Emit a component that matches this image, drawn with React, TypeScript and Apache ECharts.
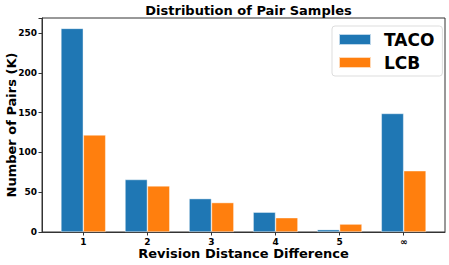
import React, { useEffect, useRef } from "react";
import * as echarts from "echarts";

const categories = ["1", "2", "3", "4", "5", "∞"];
const tacoValues = [256, 66, 42, 25, 3, 149];
const lcbValues = [122, 58, 37, 18, 10, 77];
const yTicks = [0, 50, 100, 150, 200, 250];

const FONT = "DejaVu Sans";

export default function App() {
  const ref = useRef<HTMLDivElement>(null);
  useEffect(() => {
    if (!ref.current) return;
    const chart = echarts.init(ref.current, undefined, { renderer: "svg" });
    const idx = categories.map((_, i) => i);
    chart.setOption({
      animation: false,
      title: {
        text: "Distribution of Pair Samples",
        left: 243.5,
        textAlign: "center",
        top: -1,
        textStyle: { fontFamily: FONT, fontSize: 13, fontWeight: "bold", color: "#000" },
      },
      legend: {
        orient: "vertical",
        left: 332,
        top: 26,
        itemWidth: 32,
        itemHeight: 11,
        itemGap: 6,
        padding: [5, 8, 5, 6],
        borderColor: "#ddd",
        borderWidth: 1,
        borderRadius: 3,
        icon: "rect",
        textStyle: {
          fontFamily: FONT,
          fontSize: 17,
          fontWeight: "bold",
          color: "#000",
          lineHeight: 17,
          padding: [0, 0, 0, 8],
        },
        data: ["TACO", "LCB"],
      },
      grid: {
        left: 42,
        right: 4,
        top: 18,
        bottom: 33,
        containLabel: false,
        outerBoundsMode: "none",
        show: true,
        borderColor: "#333",
        borderWidth: 1,
        backgroundColor: "transparent",
      },
      xAxis: {
        type: "value",
        min: -0.645,
        max: 5.645,
        name: "Revision Distance Difference",
        nameLocation: "middle",
        nameGap: 15,
        nameMoveOverlap: false,
        nameTextStyle: { fontFamily: FONT, fontSize: 13, fontWeight: "bold", color: "#000" },
        axisLine: { show: true, onZero: false, lineStyle: { color: "#333" } },
        axisTick: { show: true, customValues: idx, length: 3.5, lineStyle: { color: "#333" } },
        axisLabel: {
          customValues: idx,
          formatter: (v: number) => categories[Math.round(v)],
          fontFamily: FONT,
          fontSize: 9,
          fontWeight: "bold",
          color: "#000",
          margin: 5,
        },
        splitLine: { show: false },
      },
      yAxis: {
        type: "value",
        min: 0,
        max: 269,
        interval: 50,
        name: "Number of Pairs (K)",
        nameLocation: "middle",
        nameGap: 24,
        nameMoveOverlap: false,
        nameTextStyle: { fontFamily: FONT, fontSize: 13, fontWeight: "bold", color: "#000" },
        axisLine: { show: true, onZero: false, lineStyle: { color: "#333" } },
        axisTick: { show: true, length: 3.5, lineStyle: { color: "#333" } },
        axisLabel: {
          customValues: yTicks,
          fontFamily: FONT,
          fontSize: 9,
          fontWeight: "bold",
          color: "#000",
          margin: 5,
        },
        splitLine: { show: false },
      },
      series: [
        {
          name: "TACO",
          type: "bar",
          barWidth: 22.4,
          barGap: "0%",
          data: tacoValues.map((v, i) => [i, v]),
          itemStyle: { color: "#1f77b4", borderColor: "rgba(255,255,255,0.7)", borderWidth: 0.6 },
        },
        {
          name: "LCB",
          type: "bar",
          barWidth: 22.4,
          barGap: "0%",
          data: lcbValues.map((v, i) => [i, v]),
          itemStyle: { color: "#ff7f0e", borderColor: "rgba(255,255,255,0.7)", borderWidth: 0.6 },
        },
      ],
    });
    return () => chart.dispose();
  }, []);
  return <div ref={ref} style={{ width: 449, height: 265, position: "absolute", left: 0, top: 0 }} />;
}
